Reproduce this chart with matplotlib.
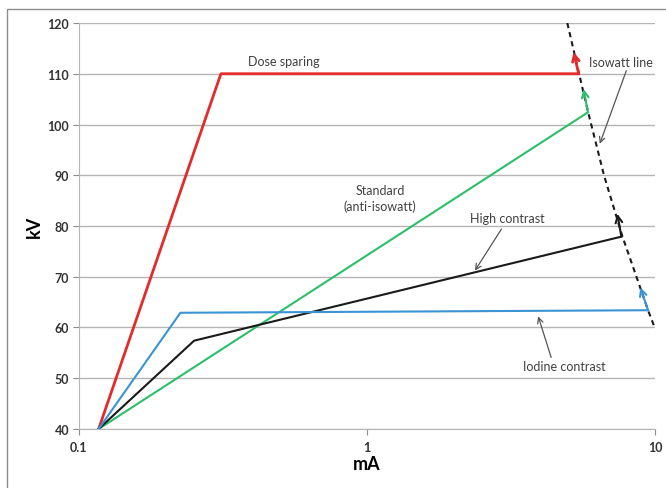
import matplotlib.pyplot as plt
from matplotlib.patches import Rectangle

plt.rcParams['font.family'] = ['Lato', 'DejaVu Sans']

# series (mA, kV)
dose_ma = [0.117, 0.311, 5.43]
dose_kv = [40, 110, 110]
dose_tip = (5.22, 114.3)

std_ma = [0.117, 5.85]
std_kv = [40, 102.4]
std_tip = (5.65, 107.0)

high_ma = [0.117, 0.251, 7.64]
high_kv = [40, 57.4, 77.9]
high_tip = (7.40, 82.4)

iod_ma = [0.117, 0.225, 9.46]
iod_kv = [40, 62.9, 63.4]
iod_tip = (8.89, 67.9)

iso_ma = [4.96, 5.45, 5.86, 6.65, 7.70, 9.46, 9.97]
iso_kv = [120, 110, 102.4, 90, 78, 63.4, 60]

yticks = [40, 50, 60, 70, 80, 90, 100, 110, 120]
xticks = [0.1, 1, 10]
xtick_labels = ['0.1', '1', '10']

fig = plt.figure(figsize=(6.66, 4.89), dpi=100)
ax = fig.add_axes([0.1186, 0.1207, 0.8649, 0.8302])

fig.add_artist(Rectangle((0.0105, -0.1), 1.2, 1.08, transform=fig.transFigure,
                         fill=False, edgecolor='#8c8c8c', linewidth=1.0))

for y in yticks:
    ax.axhline(y, color='#b5b5b5', linewidth=1.0, zorder=0)

series = [
    (dose_ma, dose_kv, dose_tip, '#e32b2b', 2.0),
    (std_ma, std_kv, std_tip, '#2cbf6a', 1.5),
    (high_ma, high_kv, high_tip, '#1a1a1a', 1.5),
    (iod_ma, iod_kv, iod_tip, '#3a93d3', 1.5),
]
for xs, ys, tip, color, lw in series:
    ax.plot(xs, ys, color=color, linewidth=lw, zorder=3)
    ax.annotate('', xy=tip, xytext=(xs[-1], ys[-1]),
                arrowprops=dict(arrowstyle='->', color=color, lw=lw,
                                shrinkA=0, shrinkB=0, mutation_scale=12), zorder=4)

ax.plot(iso_ma, iso_kv, color='#1a1a1a', linewidth=1.5, linestyle=(0, (2.5, 2)), zorder=2)

ax.set_xscale('log')
ax.set_xlim(0.1, 10)
ax.set_ylim(40, 120)
ax.set_xticks(xticks)
ax.set_xticklabels(xtick_labels)
ax.minorticks_off()
ax.set_yticks(yticks)
for lab in ax.get_xticklabels() + ax.get_yticklabels():
    lab.set_fontweight('bold')
    lab.set_fontsize(9)
    lab.set_color('#333333')
ax.tick_params(axis='both', length=4, color='#8c8c8c', direction='out', pad=3)
ax.tick_params(axis='x', pad=5)
ax.spines['top'].set_visible(False)
ax.spines['right'].set_visible(False)
ax.spines['left'].set_color('#b5b5b5')
ax.spines['bottom'].set_color('#b5b5b5')

ax.set_xlabel('mA', fontsize=13, fontweight='bold', labelpad=1)
ax.set_ylabel('kV', fontsize=13, fontweight='bold', labelpad=3)

tc = '#404040'
ax.text(0.386, 112.5, 'Dose sparing', fontsize=9, color=tc, ha='left', va='center')
ax.text(5.9, 112.4, 'Isowatt line', fontsize=9, color=tc, ha='left', va='center')
ax.text(1.11, 85.5, 'Standard\n(anti-isowatt)', fontsize=9, color=tc, ha='center',
        va='center', linespacing=1.25)
ax.text(3.08, 81.6, 'High contrast', fontsize=9, color=tc, ha='center', va='center')
ax.text(4.83, 52.5, 'Iodine contrast', fontsize=9, color=tc, ha='center', va='center')

arr = dict(arrowstyle='->', color='#555555', lw=0.9, shrinkA=0, shrinkB=0)
ax.annotate('', xy=(6.43, 96.2), xytext=(7.95, 110.6), arrowprops=arr)
ax.annotate('', xy=(2.37, 71.2), xytext=(2.93, 79.4), arrowprops=arr)
ax.annotate('', xy=(3.93, 62.2), xytext=(4.36, 54.1), arrowprops=arr)

fig.savefig('out.png', dpi=100)
